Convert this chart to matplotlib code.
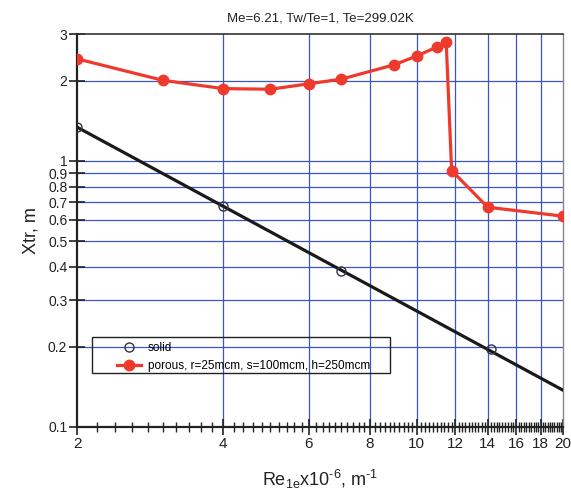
import numpy as np
import matplotlib
matplotlib.use("Agg")
import matplotlib.pyplot as plt
from matplotlib.patches import Rectangle
from matplotlib.ticker import FixedLocator, NullFormatter, FixedFormatter

plt.rcParams['font.family'] = ['Liberation Sans', 'DejaVu Sans']
plt.rcParams['mathtext.fontset'] = 'custom'
plt.rcParams['mathtext.rm'] = 'Liberation Sans'
plt.rcParams['axes.unicode_minus'] = False

# Data
solid_x = [2, 4, 7, 14.2]
solid_y = [1.34, 0.679, 0.385, 0.196]
solid_fit_x = [2, 20]
solid_fit_y = [1.34, 0.1375]

porous_x = [2, 3, 4, 5, 6, 7, 9, 10, 11, 11.5, 11.8, 14, 20]
porous_y = [2.42, 2.01, 1.87, 1.86, 1.95, 2.03, 2.30, 2.48, 2.68, 2.80, 0.92, 0.67, 0.62]

x_ticks = [2, 4, 6, 8, 10, 12, 14, 16, 18, 20]
y_ticks = [0.1, 0.2, 0.3, 0.4, 0.5, 0.6, 0.7, 0.8, 0.9, 1, 2, 3]
y_tick_labels = ['0.1', '0.2', '0.3', '0.4', '0.5', '0.6', '0.7', '0.8', '0.9', '1', '2', '3']

title = 'Me=6.21, Tw/Te=1, Te=299.02K'
solid_label = 'solid'
porous_label = 'porous, r=25mcm, s=100mcm, h=250mcm'

red = '#ee3a2c'
grid_blue = '#3a55c8'

fig = plt.figure(figsize=(5.71, 4.93), dpi=100)
ax = fig.add_axes([77/571, 66/493, 486/571, 393/493])
ax.set_xscale('log')
ax.set_yscale('log')
ax.set_xlim(2, 20)
ax.set_ylim(0.1, 3)

# grid
for xv in x_ticks[1:-1]:
    ax.axvline(xv, color=grid_blue, lw=0.9, zorder=1)
for yv in y_ticks[1:-1]:
    ax.axhline(yv, color=grid_blue, lw=0.9, zorder=1)

ax.plot(solid_fit_x, solid_fit_y, color='#1a1a1a', lw=2.3, zorder=3)
ax.plot(solid_x, solid_y, linestyle='none', marker='o', ms=6.5, mfc='none',
        mec='#333344', mew=1.0, zorder=4, label=solid_label)
ax.plot(porous_x, porous_y, color=red, lw=2.3, marker='o', ms=7.5,
        mfc=red, mec=red, zorder=5, label=porous_label)

ax.xaxis.set_major_locator(FixedLocator(x_ticks))
ax.xaxis.set_major_formatter(FixedFormatter([str(v) for v in x_ticks]))
minor_x = [v for v in np.arange(2, 20.001, 0.2) if min(abs(v - t) for t in x_ticks) > 1e-6]
ax.xaxis.set_minor_locator(FixedLocator(minor_x))
ax.xaxis.set_minor_formatter(NullFormatter())
ax.yaxis.set_major_locator(FixedLocator(y_ticks))
ax.yaxis.set_major_formatter(FixedFormatter(y_tick_labels))
ax.yaxis.set_minor_locator(FixedLocator([]))

ax.tick_params(axis='x', which='major', direction='inout', length=11, width=1.2,
               labelsize=11, pad=2, colors='#222222')
ax.tick_params(axis='x', which='minor', direction='inout', length=7, width=1.0, colors='#222222')
ax.tick_params(axis='y', which='major', direction='inout', length=12, width=1.2,
               labelsize=10, pad=1, colors='#222222')

for s in ['left', 'bottom']:
    ax.spines[s].set_linewidth(1.6)
    ax.spines[s].set_color('#222222')
ax.spines['top'].set_linewidth(1.2)
ax.spines['top'].set_color('#333333')
ax.spines['right'].set_linewidth(1.0)
ax.spines['right'].set_color('#888888')

ax.set_title(title, fontsize=9.5, pad=9, color='#222222')
ax.set_ylabel('Xtr, m', fontsize=13, labelpad=6, color='#222222')
ax.set_xlabel(r'Re$_{\mathregular{1e}}$x10$^{\text{-6}}$, m$^{\text{-1}}$',
              fontsize=13, labelpad=12, color='#222222')

# legend box (drawn as a transparent frame through which the grid shows)
ax.add_patch(Rectangle((15/486, 54/393), 298/486, 36/393, transform=ax.transAxes,
                       fill=False, edgecolor='#222222', lw=1.0, zorder=6, clip_on=False))
leg = ax.legend(loc='upper left', bbox_to_anchor=(40/486, 85/393), fontsize=8.5,
                frameon=False, handlelength=2.0, handletextpad=0.6,
                borderpad=0, labelspacing=0.5, borderaxespad=0)
leg.set_zorder(7)

fig.savefig('out.png', dpi=100)
